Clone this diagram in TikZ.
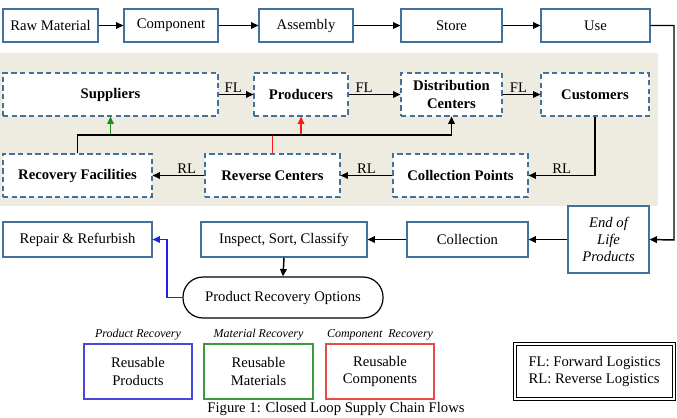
\documentclass[tikz,border=0pt]{standalone}
\usepackage{fontspec}
\setmainfont{Liberation Serif}
\usetikzlibrary{arrows.meta,calc}
\definecolor{boxblue}{HTML}{41719C}
\definecolor{bandfill}{HTML}{EEECE1}
\definecolor{garrow}{HTML}{1E8C1E}
\definecolor{rarrow}{HTML}{FF1A1A}
\definecolor{barrow}{HTML}{2020E6}
\definecolor{gbox}{HTML}{3C9A3C}
\definecolor{rbox}{HTML}{E84A4A}
\definecolor{bbox}{HTML}{4848E0}
\newcommand\mainfs{\fontsize{11}{13}\selectfont}
\newcommand\smallfs{\fontsize{9}{11}\selectfont}
\begin{document}
\begin{tikzpicture}[x=0.75pt,y=-0.75pt,
  sz/.style 2 args={minimum width=#1*0.75pt, minimum height=#2*0.75pt},
  base/.style={inner sep=0pt, font=\mainfs, align=center},
  sbox/.style={base, draw=boxblue, line width=0.9pt, fill=white},
  dbox/.style={base, draw=boxblue, line width=0.9pt, fill=white, dash pattern=on 4pt off 2.5pt, font=\mainfs\bfseries},
  cbox/.style={base, line width=0.9pt, fill=white},
  arr/.style={line width=1.1pt, -{Triangle[length=5.5pt,width=5pt]}},
  plain/.style={line width=1.1pt},
  lbl/.style={font=\mainfs, inner sep=1pt, anchor=south},
  cat/.style={font=\smallfs\itshape, inner sep=0pt, anchor=south}]
\useasboundingbox (0,0) rectangle (677,417);
% band
\fill[bandfill] (0,53) rectangle (658,206);
% top row
\node[sbox, sz={95}{33}] (raw) at (50.5,25.5) {Raw Material};
\node[sbox, sz={94}{33}] (comp) at (171,25.5) {Component};
\node[sbox, sz={94}{33}] (assy) at (306,25.5) {Assembly};
\node[sbox, sz={101}{33}] (store) at (451.5,25.5) {Store};
\node[sbox, sz={109}{33}] (use) at (595.5,25.5) {Use};
\draw[arr] (raw) -- (comp);
\draw[arr] (comp) -- (assy);
\draw[arr] (assy) -- (store);
\draw[arr] (store) -- (use);
% dashed boxes
\node[dbox, sz={215}{43}] (sup) at (110.5,94.5) {Suppliers};
\node[dbox, sz={94}{43}] (prod) at (301,94.5) {Producers};
\node[dbox, sz={101}{43}] (dist) at (451.5,94.5) {Distribution\\Centers};
\node[dbox, sz={108}{43}] (cust) at (595,94.5) {Customers};
\node[dbox, sz={149}{43}] (recf) at (77.5,175.5) {Recovery Facilities};
\node[dbox, sz={135}{43}] (rev) at (272.5,175.5) {Reverse Centers};
\node[dbox, sz={135}{43}] (colp) at (460.5,175.5) {Collection Points};
\draw[arr] (sup) -- node[lbl, pos=0.42] {FL} (prod);
\draw[arr] (prod) -- node[lbl, pos=0.3] {FL} (dist);
\draw[arr] (dist) -- node[lbl, pos=0.42] {FL} (cust);
\draw[arr] (rev) -- node[lbl, pos=0.34] {RL} (recf);
\draw[arr] (colp) -- node[lbl, pos=0.5] {RL} (rev);
\draw[arr] (cust.south) |- node[lbl, pos=0.75] {RL} (colp.east);
% feedback lines
\coordinate (j) at (77,135);
\draw[plain, rarrow] (rev.north) -- (rev.north |- j);
\draw[arr, rarrow] (prod.south |- j) -- (prod.south);
\draw[arr, garrow] (sup.south |- j) -- (sup.south);
\draw[arr] (recf.north) -- (recf.north |- j) -| (dist.south);
% lower row
\node[sbox, sz={149}{35}] (rep) at (77.5,239.5) {Repair \& Refurbish};
\node[sbox, sz={166}{35}] (insp) at (284,239.5) {Inspect, Sort, Classify};
\node[sbox, sz={121}{35}] (coll) at (467.5,239.5) {Collection};
\node[sbox, sz={81}{67}, font=\mainfs\itshape] (eol) at (608.5,239.5) {End of\\Life\\Products};
\node[base, draw=black, line width=0.9pt, rounded corners=15pt, sz={200}{41}] (pro) at (283,297.5) {Product Recovery Options};
\coordinate (rc) at (674,240);
\draw[arr] (use.east) -| (rc) -- (eol.east);
\draw[arr] (eol) -- (coll);
\draw[arr] (coll) -- (insp);
\draw[arr] (insp.south) -- (pro.north);
\coordinate (bl) at (167,0);
\draw[arr, barrow] (pro.west) -- (pro.west -| bl) |- (rep.east);
% recovery boxes
\node[cbox, draw=bbox, sz={108}{55}] (rp) at (138,371.5) {Reusable\\Products};
\node[cbox, draw=gbox, sz={109}{55}] (rm) at (258.5,371.5) {Reusable\\Materials};
\node[cbox, draw=rbox, sz={108}{55}] (rcmp) at (380,371.5) {Reusable\\Components};
\node[cat] (lp) at ([yshift=2pt]rp.north) {Product Recovery};
\node[cat] (lm) at ([yshift=2pt]rm.north) {Material Recovery};
\node[cat] (lc) at ([yshift=2pt]rcmp.north) {Component\ \ Recovery};
% legend
\node[base, draw=black, double, double distance=1.6pt, line width=0.6pt, align=left, sz={159}{55}] (leg) at (594.5,371.5) {FL: Forward Logistics\\RL: Reverse Logistics};
% caption
\node[base] (cap) at (336,409) {Figure 1: Closed Loop Supply Chain Flows};
\end{tikzpicture}
\end{document}
